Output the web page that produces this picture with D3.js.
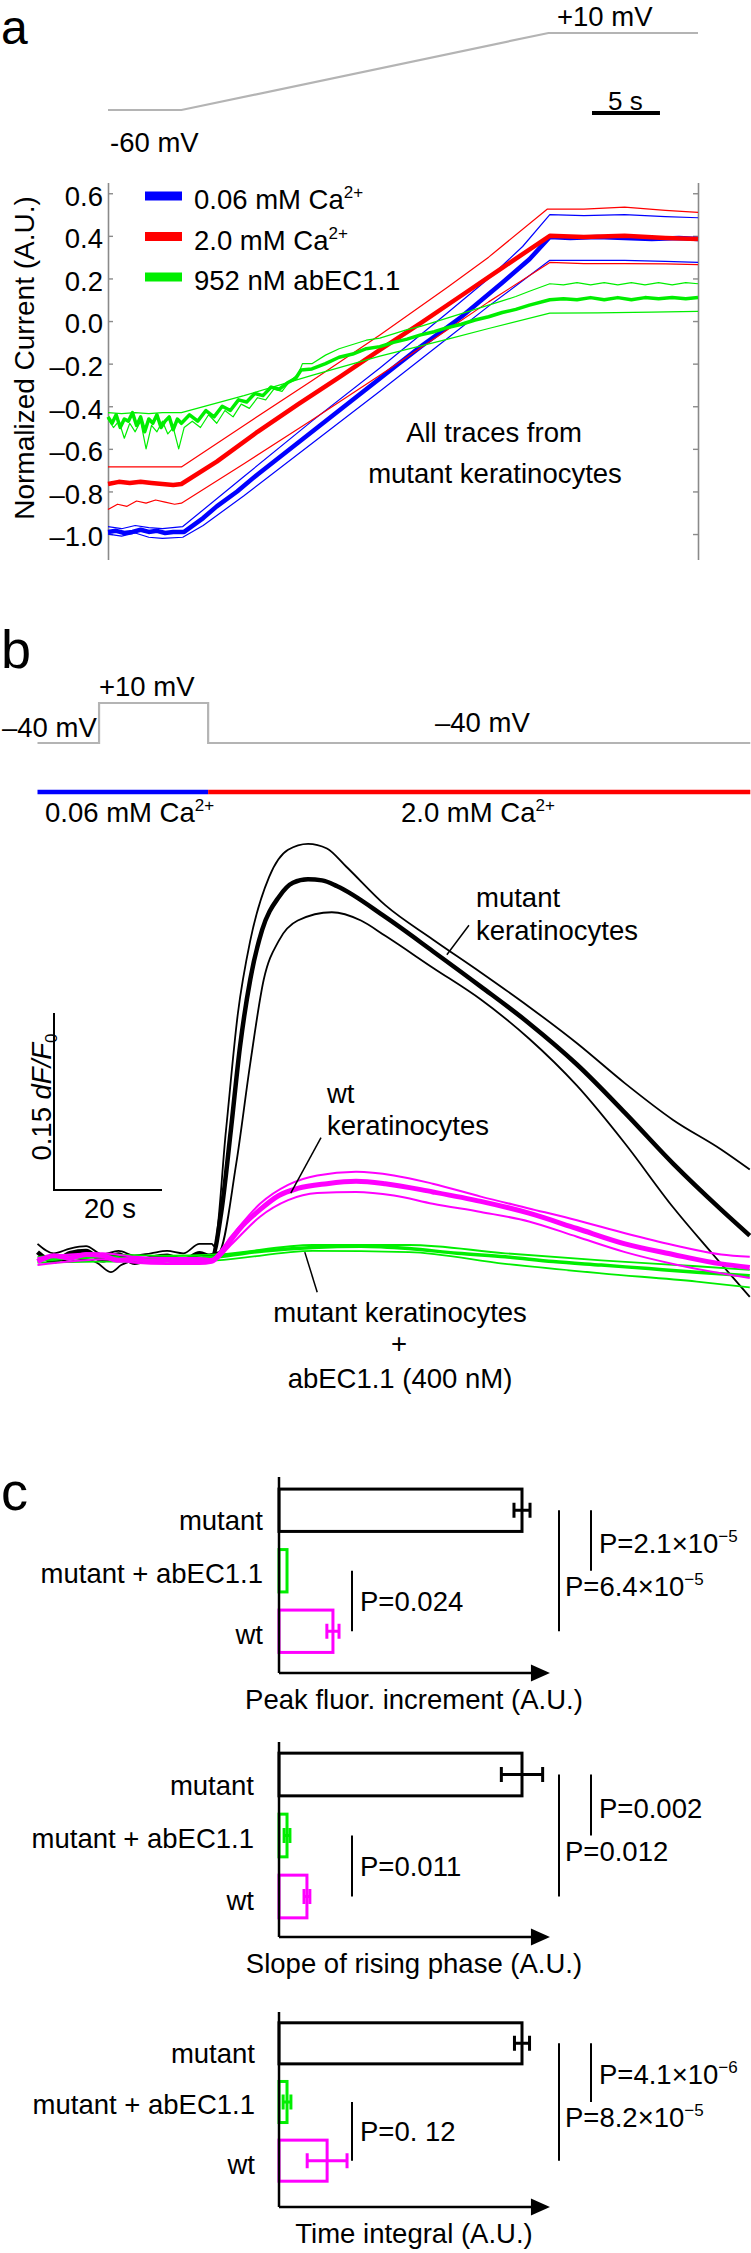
<!DOCTYPE html>
<html><head><meta charset="utf-8">
<script src="https://cdn.jsdelivr.net/npm/d3@7"></script>
<style>body{margin:0;background:#fff} text{font-family:"Liberation Sans",Arial,sans-serif;fill:#000}</style>
</head><body><svg id="c" width="751" height="2253"></svg>
<script>
// ---------------- DATA ----------------
// Panel a: command voltage (s, mV)
const aVoltT = [0, 5.4, 32.4, 43.4];
const aVoltV = [-60, -60, 10, 10];
const aTicks = [-1.0, -0.8, -0.6, -0.4, -0.2, 0.0, 0.2, 0.4, 0.6];
// Panel a traces [time s, normalized current]
const blueMean = [[0,-0.99],[0.6,-0.985],[1.2,-0.995],[1.8,-0.99],[2.4,-0.98],[3,-0.99],[3.6,-0.985],[4.2,-0.995],[4.8,-0.99],[5.6,-0.99],[7,-0.925],[8,-0.87],[9.5,-0.80],[11,-0.72],[12.5,-0.645],[14,-0.57],[15.5,-0.495],[17,-0.42],[18.5,-0.345],[20,-0.27],[21.5,-0.195],[23,-0.12],[24.5,-0.05],[26,0.02],[27.5,0.10],[29,0.18],[31,0.29],[32.5,0.395],[34,0.39],[36,0.395],[38,0.39],[40,0.385],[42,0.39],[43.4,0.385]];
const blueUp = [[0,-0.965],[1,-0.975],[2,-0.96],[3,-0.97],[4,-0.975],[5.5,-0.965],[10,-0.73],[15,-0.47],[20,-0.22],[25,0.04],[28,0.2],[30.5,0.35],[32.5,0.5],[35,0.495],[38,0.5],[41,0.49],[43.4,0.485]];
const blueLo = [[0,-1.0],[1,-1.01],[2,-0.995],[3,-1.015],[4,-1.02],[5.5,-1.015],[7,-0.96],[10,-0.82],[15,-0.575],[20,-0.33],[25,-0.08],[28,0.07],[32.5,0.285],[35,0.285],[38,0.285],[41,0.28],[43.4,0.275]];
const redMean = [[0,-0.765],[0.8,-0.755],[1.6,-0.76],[2.4,-0.755],[3.2,-0.76],[4,-0.765],[4.8,-0.77],[5.4,-0.765],[8,-0.66],[11,-0.52],[14,-0.39],[17,-0.265],[20,-0.135],[23,-0.01],[26,0.12],[29,0.25],[32.5,0.40],[35,0.395],[38,0.4],[41,0.39],[43.4,0.385]];
const redUp = [[0,-0.685],[5.4,-0.685],[10,-0.49],[15,-0.28],[20,-0.065],[25,0.16],[28,0.3],[32.3,0.525],[35,0.525],[38,0.535],[41,0.52],[43.4,0.51]];
const redLo = [[0,-0.885],[0.7,-0.86],[1.4,-0.87],[2.1,-0.845],[2.8,-0.855],[3.5,-0.84],[4.2,-0.85],[4.9,-0.86],[5.4,-0.855],[10,-0.67],[15,-0.465],[20,-0.255],[25,-0.04],[28,0.09],[32.5,0.275],[35,0.27],[38,0.27],[41,0.268],[43.4,0.265]];
const greenMean = [[0,-0.45],[0.3,-0.48],[0.6,-0.44],[0.9,-0.5],[1.2,-0.46],[1.5,-0.47],[1.8,-0.43],[2.1,-0.49],[2.4,-0.45],[2.7,-0.52],[3,-0.46],[3.3,-0.48],[3.6,-0.44],[3.9,-0.5],[4.2,-0.47],[4.5,-0.45],[4.8,-0.51],[5.1,-0.46],[5.4,-0.48],[6,-0.44],[6.6,-0.47],[7.2,-0.42],[7.8,-0.45],[8.4,-0.40],[9,-0.42],[9.6,-0.37],[10.2,-0.38],[10.8,-0.34],[11.4,-0.35],[12,-0.31],[12.6,-0.32],[13.2,-0.29],[13.8,-0.27],[14.2,-0.23],[15,-0.225],[16,-0.20],[17,-0.17],[18,-0.155],[19,-0.13],[20,-0.12],[21,-0.10],[22,-0.085],[23,-0.065],[24,-0.05],[25,-0.03],[26,-0.015],[27,0.005],[28,0.02],[29,0.04],[30,0.055],[31,0.075],[32.5,0.10],[33.5,0.105],[34.5,0.1],[35.5,0.11],[36.5,0.1],[37.5,0.11],[38.5,0.1],[39.5,0.11],[40.5,0.105],[41.5,0.11],[42.5,0.105],[43.4,0.11]];
const greenUp = [[0,-0.46],[0.4,-0.5],[0.8,-0.47],[1.2,-0.55],[1.6,-0.48],[2,-0.52],[2.4,-0.47],[2.8,-0.6],[3.2,-0.49],[3.6,-0.52],[4,-0.47],[4.4,-0.53],[4.8,-0.5],[5.2,-0.6],[5.6,-0.5],[6.2,-0.47],[6.8,-0.5],[7.4,-0.44],[8,-0.48],[8.6,-0.42],[9.2,-0.45],[9.8,-0.39],[10.4,-0.41],[11,-0.36],[11.6,-0.37],[12.2,-0.32],[12.8,-0.33],[13.4,-0.28],[14,-0.25],[14.3,-0.2],[15,-0.2],[16,-0.16],[17,-0.13],[18,-0.11],[19,-0.09],[20,-0.08],[21,-0.06],[22,-0.04],[23,-0.025],[24,-0.005],[25,0.015],[26,0.035],[27,0.055],[28,0.075],[29,0.095],[30,0.115],[31,0.14],[32.5,0.175],[33.5,0.17],[34.5,0.18],[35.5,0.17],[36.5,0.18],[37.5,0.17],[38.5,0.18],[39.5,0.17],[40.5,0.18],[41.5,0.17],[42.5,0.18],[43.4,0.175]];
const greenLo = [[0,-0.43],[1,-0.435],[2,-0.43],[3,-0.435],[4,-0.43],[5.4,-0.43],[10,-0.35],[15,-0.255],[20,-0.165],[25,-0.085],[28,-0.035],[32.5,0.037],[36,0.038],[40,0.042],[43.4,0.045]];
const legendLabels = ["0.06 mM Ca", "2.0 mM Ca", "952 nM abEC1.1"];
const legendSups = ["2+", "2+", ""];
const legendColors = ["#0000ff", "#ff0000", "#00ee00"];

// Panel b: command voltage and solutions
const bVoltT = [0, 11.4, 11.4, 31.6, 31.6, 132];
const bVoltV = [-40, -40, 10, 10, -40, -40];
const bSolFrom = [0, 31.6], bSolTo = [31.6, 132], bSolColor = ["#0000ff", "#ff0000"];
// Panel b traces [time s, dF/F0]
const blackMean = [[0,0.005],[3,-0.003],[6,0.004],[9,0.006],[12,-0.002],[15,0.003],[18,-0.004],[21,0.0],[24,0.002],[27,-0.002],[30,0.004],[32.3,0.001],[34.0,0.038],[35.8,0.108],[37.5,0.179],[39.4,0.236],[41.6,0.278],[44.7,0.306],[47.3,0.318],[50.1,0.321],[52.7,0.320],[55.5,0.315],[64.4,0.289],[73.2,0.260],[82.1,0.230],[91.0,0.199],[99.9,0.164],[108.8,0.123],[117.7,0.080],[126.6,0.041],[131.9,0.019]];
const blackUp = [[0,0.012],[3,0.004],[6,0.008],[9,0.01],[12,0.003],[15,0.006],[18,0.002],[21,0.004],[24,0.006],[27,0.004],[30,0.012],[32.3,0.012],[32.7,0.010],[34.9,0.108],[37.1,0.207],[39.4,0.269],[42.9,0.323],[46.4,0.346],[50.1,0.351],[53.6,0.347],[57.1,0.332],[64.4,0.299],[73.2,0.270],[82.1,0.242],[91.0,0.213],[99.9,0.182],[108.8,0.148],[117.7,0.117],[126.6,0.092],[131.9,0.075]];
const blackLo = [[0,-0.002],[3,0.0],[6,-0.003],[9,-0.001],[11,-0.004],[13.6,-0.012],[15.5,-0.006],[18,-0.002],[21,0.0],[24,0.001],[27,0.0],[30,0.002],[33.6,0.005],[36.8,0.080],[39.4,0.165],[41.9,0.236],[44.7,0.269],[48.2,0.286],[54.5,0.293],[59.9,0.286],[64.4,0.273],[73.2,0.246],[82.1,0.219],[91.0,0.186],[99.9,0.146],[108.8,0.097],[117.7,0.043],[124.9,0.004],[131.9,-0.033]];
const magMean = [[0,-0.003],[3,0.002],[6,0.0],[9,0.003],[12,0.002],[15,-0.002],[18,-0.001],[21,-0.003],[24,-0.002],[27,-0.003],[30,-0.003],[32.3,-0.002],[34.9,0.010],[37.5,0.025],[41.2,0.041],[44.7,0.053],[48.2,0.059],[53.6,0.063],[59.0,0.065],[64.4,0.063],[73.2,0.056],[82.1,0.048],[91.0,0.038],[99.9,0.025],[108.8,0.012],[117.7,0.003],[126.6,-0.005],[131.9,-0.008]];
const magUp = [[0,0.0],[6,0.003],[12,0.004],[18,0.001],[24,0.0],[30,0.0],[32.3,-0.001],[35.8,0.018],[41.2,0.046],[46.4,0.062],[51.8,0.070],[59.0,0.073],[66.0,0.070],[73.2,0.063],[82.1,0.052],[91.0,0.042],[99.9,0.032],[108.8,0.021],[117.7,0.011],[126.6,0.003],[131.9,0.001]];
const magLo = [[0,-0.006],[6,-0.003],[12,-0.001],[18,-0.004],[24,-0.005],[30,-0.005],[32.3,-0.004],[35.8,0.011],[41.2,0.035],[46.4,0.049],[51.8,0.055],[59.0,0.056],[66.0,0.053],[73.2,0.046],[82.1,0.039],[91.0,0.031],[99.9,0.018],[108.8,0.005],[117.7,-0.005],[126.6,-0.013],[131.9,-0.017]];
const grnMean = [[0,-0.002],[6,0.0],[12,0.001],[18,-0.001],[24,0.0],[30,0.0],[33.1,0.001],[41.9,0.006],[51.0,0.009],[59.9,0.010],[68.8,0.008],[77.7,0.004],[86.6,0.001],[95.5,-0.003],[104.4,-0.006],[113.2,-0.009],[122.1,-0.012],[131.9,-0.015]];
const grnUp = [[0,0.001],[12,0.003],[24,0.002],[33.1,0.003],[51.0,0.011],[68.8,0.011],[86.6,0.004],[104.4,-0.002],[122.1,-0.007],[131.9,-0.010]];
const grnLo = [[0,-0.004],[12,-0.003],[24,-0.003],[33.1,-0.002],[51.0,0.006],[68.8,0.005],[86.6,-0.005],[104.4,-0.013],[122.1,-0.020],[131.9,-0.025]];
const bPointers = [[[79.9,0.282],[75.8,0.257]], [[52.5,0.102],[46.9,0.055]], [[49.5,0.005],[51.8,-0.029]]];

// Panel c
const cCats = ["mutant", "mutant + abEC1.1", "wt"];
const cColors = ["#000000", "#00ee00", "#ff00ff"];
const peakVals = [1.0, 0.033, 0.222], peakErr = [0.033, 0, 0.025];
const slopeVals = [1.0, 0.033, 0.115], slopeErr = [0.085, 0.012, 0.012];
const integVals = [1.0, 0.033, 0.198], integErr = [0.031, 0.016, 0.082];
const peakP = [["P=2.1×10", "−5"], ["P=6.4×10", "−5"], ["P=0.024", ""]];
const slopeP = [["P=0.002", ""], ["P=0.012", ""], ["P=0.011", ""]];
const integP = [["P=4.1×10", "−6"], ["P=8.2×10", "−5"], ["P=0. 12", ""]];
const cTitles = ["Peak fluor. increment (A.U.)", "Slope of rising phase (A.U.)", "Time integral (A.U.)"];

// ---------------- DRAW ----------------
const FS = 27.5;
const svg = d3.select("#c");
svg.append("rect").attr("width", 751).attr("height", 2253).attr("fill", "#fff");

function rich(parent, x, y, parts, anchor, size) {
  const t = parent.append("text").attr("x", x).attr("y", y)
    .attr("font-size", size || FS).attr("text-anchor", anchor || "start");
  parts.forEach(p => {
    if (typeof p === "string") { t.append("tspan").text(p); }
    else if (p.sup) { t.append("tspan").attr("font-size", 17).attr("dy", -11).text(p.sup); t.append("tspan").attr("dy", 11).text(""); }
    else if (p.sub) { t.append("tspan").attr("font-size", 17).attr("dy", 6).text(p.sub); t.append("tspan").attr("dy", -6).text(""); }
    else if (p.it) { t.append("tspan").attr("font-style", "italic").text(p.it); }
  });
  return t;
}
function label(x, y, s, size, anchor) {
  return svg.append("text").attr("x", x).attr("y", y).attr("font-size", size || FS)
    .attr("text-anchor", anchor || "start").text(s);
}

// ===== Panel a =====
label(1, 44, "a", 48);
const xA = d3.scaleLinear().domain([0, 43.4]).range([108, 698]);
const yA = d3.scaleLinear().domain([-1.12, 0.65]).range([559.6, 182.6]);
const vA = d3.scaleLinear().domain([-60, 10]).range([110, 33]);

svg.append("path").datum(d3.zip(aVoltT, aVoltV))
  .attr("d", d3.line().x(d => xA(d[0])).y(d => vA(d[1])))
  .attr("fill", "none").attr("stroke", "#b4b4b4").attr("stroke-width", 2.2);
label(557, 26, "+10 mV");
label(110, 152, "-60 mV");
// 5 s scale bar
svg.append("line").attr("x1", 592).attr("x2", 592 + (xA(5) - xA(0))).attr("y1", 113).attr("y2", 113)
  .attr("stroke", "#000").attr("stroke-width", 4);
label(608, 110, "5 s", 26);

const fmtA = d => (d < -1e-9 ? "\u2013" : "") + Math.abs(d).toFixed(1);
const gL = svg.append("g").attr("transform", "translate(108,0)")
  .call(d3.axisLeft(yA).tickValues(aTicks).tickSize(-5).tickSizeOuter(0).tickPadding(5).tickFormat(fmtA));
const gR = svg.append("g").attr("transform", "translate(698,0)")
  .call(d3.axisRight(yA).tickValues(aTicks).tickSize(-5).tickSizeOuter(0).tickFormat(""));
[gL, gR].forEach(g => {
  g.select(".domain").attr("stroke", "#8a8a8a").attr("stroke-width", 1.6);
  g.selectAll(".tick line").attr("stroke", "#8a8a8a").attr("stroke-width", 1.4);
  g.selectAll(".tick text").attr("font-size", FS).attr("fill", "#000")
    .attr("font-family", "Liberation Sans, Arial, sans-serif").attr("dy", "0.43em");
});
svg.append("text").attr("transform", "translate(34,358) rotate(-90)").attr("text-anchor", "middle")
  .attr("font-size", 28).text("Normalized Current (A.U.)");

const lineA = d3.line().x(d => xA(d[0])).y(d => yA(d[1]));
function traceA(data, color, w) {
  svg.append("path").datum(data).attr("d", lineA).attr("fill", "none")
    .attr("stroke", color).attr("stroke-width", w).attr("stroke-linejoin", "round");
}
traceA(blueUp, "#0000ff", 1.2); traceA(blueLo, "#0000ff", 1.2); traceA(blueMean, "#0000ff", 4.5);
traceA(redUp, "#ff0000", 1.2); traceA(redLo, "#ff0000", 1.2); traceA(redMean, "#ff0000", 4.5);
traceA(greenUp, "#00ee00", 1.2); traceA(greenLo, "#00ee00", 1.2); traceA(greenMean, "#00ee00", 3.5);

legendLabels.forEach((s, i) => {
  const cy = 196 + i * 40.5;
  svg.append("rect").attr("x", 145).attr("y", cy - 4.5).attr("width", 37).attr("height", 9).attr("fill", legendColors[i]);
  const parts = [s]; if (legendSups[i]) parts.push({ sup: legendSups[i] });
  rich(svg, 194, cy + 13, parts);
});
label(494, 442, "All traces from", FS, "middle");
label(495, 483, "mutant keratinocytes", FS, "middle");

// ===== Panel b =====
label(1, 668, "b", 54);
const xB = d3.scaleLinear().domain([0, 132]).range([37.5, 750.3]);
const yB = d3.scaleLinear().domain([0, 0.15]).range([1258, 1081]);
const vB = d3.scaleLinear().domain([-40, 10]).range([743, 703]);
svg.append("path").datum(d3.zip(bVoltT, bVoltV))
  .attr("d", d3.line().x(d => xB(d[0])).y(d => vB(d[1])))
  .attr("fill", "none").attr("stroke", "#b4b4b4").attr("stroke-width", 2.2);
label(99, 696, "+10 mV");
label(2, 737, "\u201340 mV");
label(435, 732, "\u201340 mV");
bSolFrom.forEach((f, i) => {
  svg.append("line").attr("x1", xB(f)).attr("x2", xB(bSolTo[i])).attr("y1", 792).attr("y2", 792)
    .attr("stroke", bSolColor[i]).attr("stroke-width", 4.5);
});
rich(svg, 45, 822, ["0.06 mM Ca", { sup: "2+" }]);
rich(svg, 401, 822, ["2.0 mM Ca", { sup: "2+" }]);

const lineB = d3.line().x(d => xB(d[0])).y(d => yB(d[1])).curve(d3.curveMonotoneX);
function traceB(data, color, w) {
  svg.append("path").datum(data).attr("d", lineB).attr("fill", "none")
    .attr("stroke", color).attr("stroke-width", w).attr("stroke-linejoin", "round");
}
traceB(blackUp, "#000", 1.8); traceB(blackLo, "#000", 1.8); traceB(blackMean, "#000", 4.5);
traceB(grnUp, "#00ee00", 1.8); traceB(grnLo, "#00ee00", 1.8); traceB(grnMean, "#00ee00", 3.5);
traceB(magUp, "#ff00ff", 2); traceB(magLo, "#ff00ff", 2); traceB(magMean, "#ff00ff", 5);

bPointers.forEach(p => {
  svg.append("line").attr("x1", xB(p[0][0])).attr("y1", yB(p[0][1])).attr("x2", xB(p[1][0])).attr("y2", yB(p[1][1]))
    .attr("stroke", "#000").attr("stroke-width", 1.5);
});
label(476, 907, "mutant"); label(476, 940, "keratinocytes");
label(327, 1103, "wt"); label(327, 1135, "keratinocytes");
label(400, 1322, "mutant keratinocytes", FS, "middle");
label(399, 1353, "+", FS, "middle");
label(400, 1388, "abEC1.1 (400 nM)", FS, "middle");

// scale bars
const sbX = 54, sbY = 1190;
svg.append("path").attr("d", `M${sbX},${sbY - (yB(0) - yB(0.15))}V${sbY}H${sbX + (xB(20) - xB(0))}`)
  .attr("fill", "none").attr("stroke", "#000").attr("stroke-width", 2);
label(84, 1218, "20 s");
const rt = svg.append("g").attr("transform", "translate(51,1097) rotate(-90)");
rich(rt, 0, 0, ["0.15 ", { it: "dF" }, { it: "/" }, { it: "F" }, { sub: "0" }], "middle");

// ===== Panel c =====
label(1, 1510, "c", 54);
const xC = d3.scaleLinear().domain([0, 1]).range([279, 522]);
const subplots = [
  { top: 1477, y0: 1480, y1: 1661.5, arrowY: 1673, labelX: 263, vals: peakVals, errs: peakErr, p: peakP, title: cTitles[0] },
  { top: 1742, y0: 1744, y1: 1927, arrowY: 1937, labelX: 254, vals: slopeVals, errs: slopeErr, p: slopeP, title: cTitles[1] },
  { top: 2012, y0: 2014, y1: 2190, arrowY: 2207, labelX: 255, vals: integVals, errs: integErr, p: integP, title: cTitles[2] }
];
const labelDy = [20, 12, 13];
subplots.forEach(sp => {
  const g = svg.append("g");
  const yb = d3.scaleBand().domain(cCats).range([sp.y0, sp.y1]).paddingInner(0.3).paddingOuter(0.15);
  const bw = yb.bandwidth();
  const mid = c => yb(c) + bw / 2;
  cCats.forEach((c, i) => {
    g.append("rect").attr("x", xC(0)).attr("y", yb(c)).attr("width", xC(sp.vals[i]) - xC(0)).attr("height", bw)
      .attr("fill", "#fff").attr("stroke", cColors[i]).attr("stroke-width", 3);
    if (sp.errs[i] > 0) {
      const e1 = xC(sp.vals[i] - sp.errs[i]), e2 = xC(sp.vals[i] + sp.errs[i]), cy = mid(c);
      g.append("path").attr("d", `M${e1},${cy}H${e2}M${e1},${cy - 7.5}V${cy + 7.5}M${e2},${cy - 7.5}V${cy + 7.5}`)
        .attr("stroke", cColors[i]).attr("stroke-width", 3).attr("fill", "none");
    }
    g.append("text").attr("x", sp.labelX).attr("y", mid(c) + labelDy[i]).attr("text-anchor", "end")
      .attr("font-size", FS).text(c);
  });
  // axes
  g.append("line").attr("x1", xC(0)).attr("x2", xC(0)).attr("y1", sp.top).attr("y2", sp.arrowY)
    .attr("stroke", "#000").attr("stroke-width", 2.5);
  g.append("line").attr("x1", xC(0)).attr("x2", xC(1.04)).attr("y1", sp.arrowY).attr("y2", sp.arrowY)
    .attr("stroke", "#000").attr("stroke-width", 2.5);
  const tip = xC(1.115);
  g.append("path").attr("d", `M${tip},${sp.arrowY}L${tip - 19},${sp.arrowY - 8.5}L${tip - 19},${sp.arrowY + 8.5}Z`).attr("fill", "#000");
  g.append("text").attr("x", 414).attr("y", sp.arrowY + 36).attr("text-anchor", "middle").attr("font-size", FS).text(sp.title);
  // significance lines
  const m0 = mid(cCats[0]), m1 = mid(cCats[1]), m2 = mid(cCats[2]);
  const lines = [[591, m0, m1], [559, m0, m2], [352, m1, m2]];
  lines.forEach(l => g.append("line").attr("x1", l[0]).attr("x2", l[0]).attr("y1", l[1]).attr("y2", l[2])
    .attr("stroke", "#000").attr("stroke-width", 2));
  const pPos = [[599, m1 - 18], [565, m1 + 25], [360, (m1 + m2) / 2 + 10]];
  sp.p.forEach((pp, i) => {
    const parts = [pp[0]]; if (pp[1]) parts.push({ sup: pp[1] });
    rich(g, pPos[i][0], pPos[i][1], parts);
  });
});
</script></body></html>
